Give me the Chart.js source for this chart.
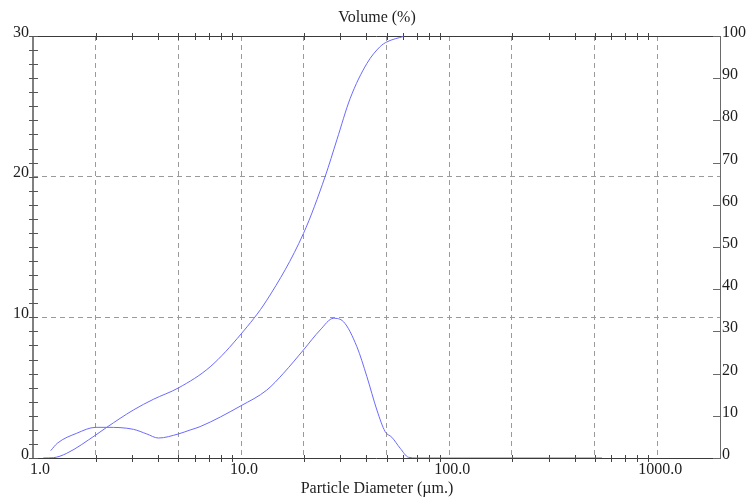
<!DOCTYPE html>
<html><head><meta charset="utf-8">
<script src="https://cdn.jsdelivr.net/npm/chart.js@4/dist/chart.umd.min.js"></script>
<style>html,body{margin:0;padding:0;background:#fff}canvas{display:block}</style>
</head><body>
<canvas id="c" width="748" height="500"></canvas>
<script>
// ---- data ----
const freqDiameters = [1.216,1.309,1.623,2.002,2.261,3.035,3.521,4.003,4.996,5.686,6.353,10.0,13.29,15.97,19.93,23.98,27.79,31.03,36.00,40.22,44.92,49.25,53.03,58.14,63.74,69.95,542];
const freqValues    = [0.52,1.05,1.76,2.18,2.18,2.04,1.71,1.42,1.71,1.99,2.23,3.72,4.83,6.02,7.68,9.10,9.93,9.69,7.91,5.78,3.41,1.87,1.47,0.69,0.05,0,0];
const cumDiameters  = [1.121,1.252,1.452,2.002,2.261,3.035,3.788,4.996,7.096,10.0,13.29,19.93,25.34,28.85,33.42,40.22,46.58,50.16,60.29];
const cumValues     = [0,0.07,1.11,5.45,7.27,11.37,13.91,16.6,21.6,29.4,37.4,53.2,66.7,75.4,85.2,93.5,97.5,98.6,99.9];

const xGridValues   = [2,5,10,20,50,100,200,500,1000];
const xMinorTicks   = [2,3,4,5,6,7,8,9,20,30,40,50,60,70,80,90,200,300,400,500,600,700,800,900];
const xLabelValues  = [1,10,100,1000];
const xLabelTexts   = ['1.0','10.0','100.0','1000.0'];
const leftGridValues = [10,20];
const leftLabels    = [0,10,20,30];
const rightLabels   = [0,10,20,30,40,50,60,70,80,90,100];
const topTitle      = 'Volume (%)';
const bottomTitle   = 'Particle Diameter (\u00b5m.)';

const FONT = '16px "Liberation Serif", "DejaVu Serif", serif';
const TEXT = '#1e1e1e';
const LINE = '#6a6aff';

const decor = {
  id: 'decor',
  beforeDatasetsDraw(chart) {
    const ctx = chart.ctx, a = chart.chartArea;
    const x = chart.scales.x, yl = chart.scales.yL, yr = chart.scales.yR;
    ctx.save();
    ctx.lineWidth = 1;
    ctx.strokeStyle = '#3a3a3a';
    ctx.beginPath();
    ctx.moveTo(a.left, Math.round(a.top) + 0.5); ctx.lineTo(a.right, Math.round(a.top) + 0.5);
    ctx.moveTo(a.left, Math.round(a.bottom) + 0.5); ctx.lineTo(a.right, Math.round(a.bottom) + 0.5);
    ctx.stroke();
    ctx.strokeStyle = '#444';
    ctx.beginPath();
    xMinorTicks.forEach(v => {
      const px = Math.round(x.getPixelForValue(v)) + 0.5;
      ctx.moveTo(px, a.top - 3); ctx.lineTo(px, a.top + 4);
      ctx.moveTo(px, a.bottom - 3); ctx.lineTo(px, a.bottom + 4);
    });
    ctx.stroke();
    ctx.strokeStyle = '#6a6a6a';
    ctx.beginPath();
    ctx.moveTo(Math.round(a.right) + 0.5, a.top); ctx.lineTo(Math.round(a.right) + 0.5, a.bottom + 1);
    rightLabels.forEach(v => {
      const py = Math.round(yr.getPixelForValue(v)) + 0.5;
      ctx.moveTo(a.right - 7, py); ctx.lineTo(a.right, py);
    });
    ctx.stroke();
    ctx.strokeStyle = '#808080';
    ctx.lineWidth = 2;
    ctx.beginPath();
    ctx.moveTo(a.left, a.top); ctx.lineTo(a.left, a.bottom + 1);
    ctx.stroke();
    ctx.lineWidth = 1;
    ctx.strokeStyle = '#555';
    ctx.beginPath();
    for (let v = yl.min; v <= yl.max; v++) {
      const py = Math.round(yl.getPixelForValue(v)) + 0.5;
      ctx.moveTo(a.left - 4, py); ctx.lineTo(a.left + 5, py);
    }
    ctx.stroke();
    ctx.restore();
  },
  afterDraw(chart) {
    const ctx = chart.ctx, a = chart.chartArea;
    const x = chart.scales.x, yl = chart.scales.yL, yr = chart.scales.yR;
    ctx.save();
    ctx.font = FONT;
    ctx.fillStyle = TEXT;
    ctx.textBaseline = 'alphabetic';
    ctx.textAlign = 'right';
    leftLabels.forEach(v => ctx.fillText(String(v), a.left - 4, yl.getPixelForValue(v) + 0.5));
    ctx.textAlign = 'left';
    rightLabels.forEach(v => ctx.fillText(String(v), a.right + 2, yr.getPixelForValue(v) + 1));
    ctx.textAlign = 'center';
    xLabelValues.forEach((v, i) => {
      const w = ctx.measureText(xLabelTexts[i]).width;
      let cx = x.getPixelForValue(v) + 3;
      if (cx - w / 2 < a.left - 3) cx = a.left - 3 + w / 2;
      ctx.fillText(xLabelTexts[i], cx, a.bottom + 15.5);
    });
    const mid = (a.left + a.right) / 2 + 0.5;
    ctx.fillText(topTitle, mid, 21.5);
    ctx.fillText(bottomTitle, mid, 492.5);
    ctx.restore();
  }
};

const toPts = (xs, ys) => xs.map((d, i) => ({ x: d, y: ys[i] }));

new Chart(document.getElementById('c'), {
  type: 'line',
  data: {
    datasets: [
      { data: toPts(freqDiameters, freqValues), yAxisID: 'yL', borderColor: LINE, borderWidth: 1,
        pointRadius: 0, fill: false, cubicInterpolationMode: 'monotone' },
      { data: toPts(cumDiameters, cumValues), yAxisID: 'yR', borderColor: LINE, borderWidth: 1,
        pointRadius: 0, fill: false, cubicInterpolationMode: 'monotone' }
    ]
  },
  options: {
    responsive: false,
    animation: false,
    devicePixelRatio: 1,
    layout: { padding: { left: 33, right: 28, top: 36, bottom: 42 } },
    plugins: { legend: { display: false }, tooltip: { enabled: false }, title: { display: false } },
    scales: {
      x: {
        type: 'logarithmic', min: 1, max: 2000, position: 'bottom',
        afterBuildTicks: s => { s.ticks = xGridValues.map(v => ({ value: v })); },
        afterFit: s => { s.height = 0; },
        ticks: { display: false },
        grid: { color: '#9a9a9a', lineWidth: 1, drawTicks: false },
        border: { display: false, dash: [5, 4] }
      },
      yL: {
        type: 'linear', min: 0, max: 30, position: 'left',
        afterBuildTicks: s => { s.ticks = leftGridValues.map(v => ({ value: v })); },
        afterFit: s => { s.width = 0; },
        ticks: { display: false },
        grid: { color: '#9a9a9a', lineWidth: 1, drawTicks: false },
        border: { display: false, dash: [5, 4] }
      },
      yR: {
        type: 'linear', min: 0, max: 100, position: 'right',
        afterFit: s => { s.width = 0; },
        ticks: { display: false },
        grid: { display: false, drawTicks: false },
        border: { display: false }
      }
    }
  },
  plugins: [decor]
});
</script>
</body></html>
